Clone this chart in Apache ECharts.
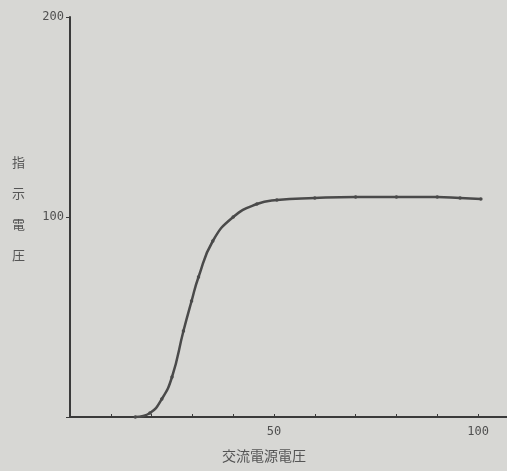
<!DOCTYPE html>
<html><head><meta charset="utf-8">
<script src="https://cdn.jsdelivr.net/npm/echarts@6/dist/echarts.min.js"></script>
<style>html,body{margin:0;padding:0;background:#d7d7d4;}#c{width:507px;height:471px;}</style>
</head><body><div id="c"></div>
<script>
const xValues = [16, 19.6, 22.5, 25, 27.8, 29.8, 31.5, 35, 40, 45.8, 50.7, 60, 70, 80, 90, 95.6, 100.7];
const yValues = [0, 2, 9, 20, 43, 58, 70, 88, 100, 106.5, 108.5, 109.5, 110, 110, 110, 109.5, 109];
const xTickLabels = [50, 100];
const yTickLabels = [100, 200];
const xTitle = '交流電源電圧';
const yTitle = '指示電圧';

const ink = '#4a4a4a';
const chart = echarts.init(document.getElementById('c'));
chart.setOption({
  backgroundColor: '#d7d7d4',
  animation: false,
  grid: {left: 70, top: 17, width: 437, height: 400, containLabel: false},
  xAxis: {
    type: 'value', min: 0, max: 107.1, interval: 10,
    axisLine: {lineStyle: {color: '#3a3a3a', width: 2}},
    axisTick: {show: true, length: 3, inside: true, lineStyle: {color: '#3a3a3a'}},
    splitLine: {show: false},
    axisLabel: {margin: 9, color: '#505050', fontSize: 12, fontFamily: 'DejaVu Sans Mono',
      formatter: v => xTickLabels.includes(v) ? String(v) : '', showMaxLabel: false}
  },
  yAxis: {
    type: 'value', min: 0, max: 200, interval: 100,
    axisLine: {show: true, lineStyle: {color: '#3a3a3a', width: 2}},
    axisTick: {show: true, length: 4, lineStyle: {color: '#3a3a3a'}},
    splitLine: {show: false},
    axisLabel: {margin: 6, color: '#505050', fontSize: 12, fontFamily: 'DejaVu Sans Mono',
      formatter: v => yTickLabels.includes(v) ? String(v) : ''}
  },
  graphic: [
    {type: 'text', left: 12, top: 147, style: {text: yTitle.split('').join('\n'), fontSize: 13, lineHeight: 31,
      fill: '#555', fontFamily: 'Noto Sans CJK JP'}},
    {type: 'text', left: 222, top: 449, style: {text: xTitle, fontSize: 14, fill: '#555',
      fontFamily: 'Noto Sans CJK JP'}}
  ],
  series: [{
    type: 'line',
    data: xValues.map((x, i) => [x, yValues[i]]),
    smooth: 0.5,
    symbol: 'circle', symbolSize: 3.5,
    itemStyle: {color: ink},
    lineStyle: {color: ink, width: 2.5}
  }]
});
</script></body></html>
